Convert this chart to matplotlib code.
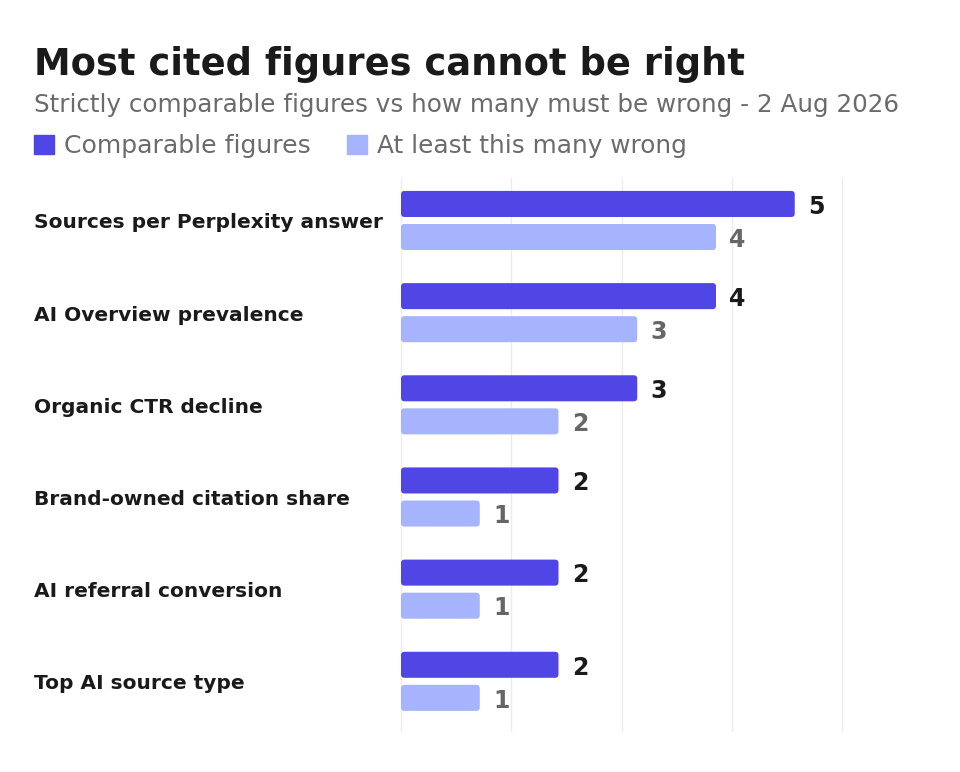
import matplotlib
matplotlib.use("Agg")
import matplotlib.pyplot as plt
from matplotlib.patches import FancyBboxPatch
import numpy as np

categories = ["Sources per Perplexity answer", "AI Overview prevalence", "Organic CTR decline",
              "Brand-owned citation share", "AI referral conversion", "Top AI source type"]
comparable = [5, 4, 3, 2, 2, 2]
wrong = [4, 3, 2, 1, 1, 1]
series_names = ["Comparable figures", "At least this many wrong"]
title = "Most cited figures cannot be right"
subtitle = "Strictly comparable figures vs how many must be wrong - 2 Aug 2026"

DARK = "#4F46E5"
LIGHT = "#A5B4FC"
FONT = "DejaVu Sans"

W, H = 960, 772
fig = plt.figure(figsize=(W / 100, H / 100), dpi=100)
fig.patch.set_facecolor("white")

def px(x, y):
    return x / W, 1 - y / H

renderer = fig.canvas.get_renderer()

def fit_text(x, y, s, target_w, size, **kw):
    t = fig.text(*px(x, y), s, fontsize=size, family=FONT, **kw)
    w = t.get_window_extent(renderer).width
    t.set_fontsize(size * target_w / w)
    return t

fit_text(34, 75, title, 711, 30, fontweight="bold", color="#1a1a1a", va="baseline")
fit_text(34, 112, subtitle, 868, 16, color="#6b6b6b", va="baseline")

# legend
leg_y = 154
for i, (name, col, x0, tw) in enumerate([(series_names[0], DARK, 34, 247),
                                          (series_names[1], LIGHT, 347, 310)]):
    sq = plt.Rectangle(px(x0, leg_y), 20 / W, 19 / H, transform=fig.transFigure,
                       color=col, zorder=3)
    fig.patches.append(sq)
    fit_text(x0 + 30, leg_y - 1, name, tw, 16, color="#6b6b6b", va="baseline")

ax = fig.add_axes([401 / W, (H - 731) / H, (842 - 401) / W, (731 - 178) / H])
xmax = 5.6
n = len(categories)
shift = 0.039
ax.set_xlim(0, xmax)
ax.set_ylim(n + shift, shift)
for s in ax.spines.values():
    s.set_visible(False)
ax.set_xticks([])
ax.set_yticks([])
for gx in np.linspace(0, xmax, 5):
    ax.axvline(gx, color="#ececec", lw=1, zorder=0, clip_on=False)

bar_h = 26 / 92
off = 16.5 / 92
xpp = xmax / 441.0
ypp = n / 553.0
r_px = 3.5
for i in range(n):
    yc = i + 0.5
    for val, col, dy, tcol in [(comparable[i], DARK, -off, "#1a1a1a"), (wrong[i], LIGHT, off, "#666666")]:
        p = FancyBboxPatch((0, yc + dy - bar_h / 2), val, bar_h,
                           boxstyle=f"round,pad=0,rounding_size={r_px * xpp}",
                           mutation_aspect=ypp / xpp, facecolor=col, edgecolor="none", zorder=2)
        ax.add_patch(p)
        ax.annotate(str(val), (val, yc + dy), xytext=(9.5, -2), textcoords="offset points",
                    ha="left", va="center", fontsize=17, fontweight="bold", color=tcol, family=FONT)

# category labels
lab_size = None
for i, c in enumerate(categories):
    ypx = 178 + (i + 0.5 - shift) * (553 / n) + 2.5
    t = fig.text(*px(34, ypx), c, fontsize=14, fontweight="bold", family=FONT,
                 color="#1a1a1a", va="center", ha="left")
    if i == 0:
        w = t.get_window_extent(renderer).width
        lab_size = 14 * 348 / w
    t.set_fontsize(lab_size)

fig.savefig("out.png", dpi=100, facecolor="white")
